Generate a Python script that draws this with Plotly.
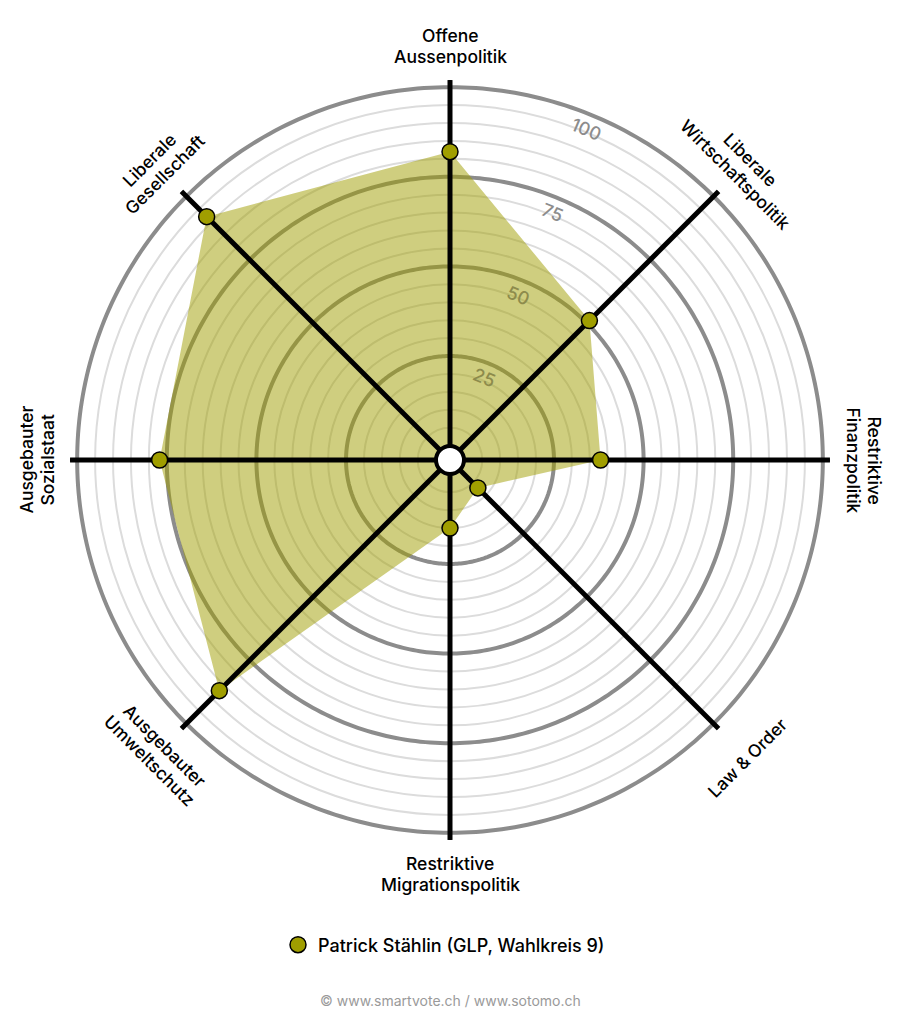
import numpy as np
import plotly.graph_objects as go

# ---- data ----
categories = [
    ["Offene", "Aussenpolitik"],
    ["Liberale", "Wirtschaftspolitik"],
    ["Restriktive", "Finanzpolitik"],
    ["Law & Order"],
    ["Restriktive", "Migrationspolitik"],
    ["Ausgebauter", "Umweltschutz"],
    ["Ausgebauter", "Sozialstaat"],
    ["Liberale", "Gesellschaft"],
]
values = [82, 51, 38, 7, 15, 87, 77, 92]
series_name = "Patrick Stählin (GLP, Wahlkreis 9)"
tick_values = [25, 50, 75, 100]
tick_labels = ["25", "50", "75", "100"]
thin_grid = list(range(5, 101, 5))
footer = "© www.smartvote.ch / www.sotomo.ch"

# ---- styles ----
FONT = "Inter"
R_MIN, R_MAX = -4, 102
W, H = 900, 1024
OFF = 8                    # page body margin
CX, CY = 450 - OFF, 460 - OFF
RAD = 380
FILL = "rgba(160,158,0,0.5)"
MARK = "#a09e00"
LABEL_R = 414
LINE_GAP = 21

n = len(categories)
theta = [i * 360 / n for i in range(n)]
circle_t = np.linspace(0, 360, 361)

fig = go.Figure()

for v in tick_values:
    fig.add_trace(go.Scatterpolar(
        r=[v] * len(circle_t), theta=circle_t, mode="lines",
        line=dict(color="#8c8c8c", width=4), hoverinfo="skip", showlegend=False))

fig.add_trace(go.Scatterpolar(
    r=values + [values[0]], theta=theta + [theta[0]], mode="lines",
    fill="toself", fillcolor=FILL, line=dict(width=0, color=FILL),
    hoverinfo="skip", showlegend=False))

sr, st = [], []
for t in theta:
    sr += [R_MIN, R_MAX, None]
    st += [t, t, None]
fig.add_trace(go.Scatterpolar(
    r=sr, theta=st, mode="lines", line=dict(color="black", width=5),
    hoverinfo="skip", showlegend=False))

fig.add_trace(go.Scatterpolar(
    r=values, theta=theta, mode="markers", name=series_name,
    marker=dict(size=16, color=MARK, line=dict(color="black", width=1.5)),
    showlegend=True))

fig.add_trace(go.Scatterpolar(
    r=[R_MIN], theta=[0], mode="markers",
    marker=dict(size=28, color="white", line=dict(color="black", width=4)),
    hoverinfo="skip", showlegend=False, cliponaxis=False))

px_per = RAD / (R_MAX - R_MIN)

def to_paper(r_px, ang_deg):
    a = np.radians(ang_deg)
    x = (CX + r_px * np.sin(a)) / W
    y = 1 - (CY - r_px * np.cos(a)) / H
    return x, y

annotations = []
for lines, t in zip(categories, theta):
    upper = t <= 90 or t >= 270
    if t <= 90:
        ta = t
    elif t < 270:
        ta = t - 180
    else:
        ta = t - 360
    if len(lines) == 1:
        offsets = [7]
    else:
        offsets = [LINE_GAP / 2, -LINE_GAP / 2] if upper else [-LINE_GAP / 2, LINE_GAP / 2]
    for txt, o in zip(lines, offsets):
        x, y = to_paper(LABEL_R + o, t)
        annotations.append(dict(
            x=x, y=y, xref="paper", yref="paper", text=txt, showarrow=False,
            textangle=ta, xanchor="center", yanchor="middle", borderpad=0,
            font=dict(family=FONT, size=17.5, color="black", weight=500)))

for v, lab in zip(tick_values, tick_labels):
    rp = (v - R_MIN) * px_per - 15
    x, y = to_paper(rp, 22.5)
    inside = v <= 50
    annotations.append(dict(
        x=x, y=y, xref="paper", yref="paper", text=lab, showarrow=False,
        textangle=22.5, xanchor="center", yanchor="middle",
        font=dict(family=FONT, size=18, weight=500,
                  color="#8d8b4c" if inside else "#8c8c8c")))

annotations.append(dict(
    x=0.5 - OFF / W, y=1 - (1000 - OFF) / H, xref="paper", yref="paper", text=footer,
    showarrow=False, xanchor="center", yanchor="middle",
    font=dict(family=FONT, size=14, color="#9a9a9a")))

fig.update_layout(
    width=W, height=H,
    margin=dict(l=0, r=0, t=0, b=0),
    paper_bgcolor="white", plot_bgcolor="white",
    font=dict(family=FONT),
    polar=dict(
        domain=dict(x=[(CX - RAD) / W, (CX + RAD) / W],
                    y=[1 - (CY + RAD) / H, 1 - (CY - RAD) / H]),
        bgcolor="white",
        angularaxis=dict(rotation=90, direction="clockwise", showline=False,
                         showgrid=False, showticklabels=False, ticks=""),
        radialaxis=dict(range=[R_MIN, R_MAX], tickvals=thin_grid, showline=False,
                        showticklabels=False, ticks="", gridcolor="#dcdcdc",
                        gridwidth=2),
    ),
    legend=dict(orientation="h", x=0.5 - 14 / W, xanchor="center",
                y=1 - (945 - OFF) / H, yanchor="middle",
                font=dict(family=FONT, size=18, color="black", weight=500)),
    annotations=annotations,
)

fig.write_html("out.html")
